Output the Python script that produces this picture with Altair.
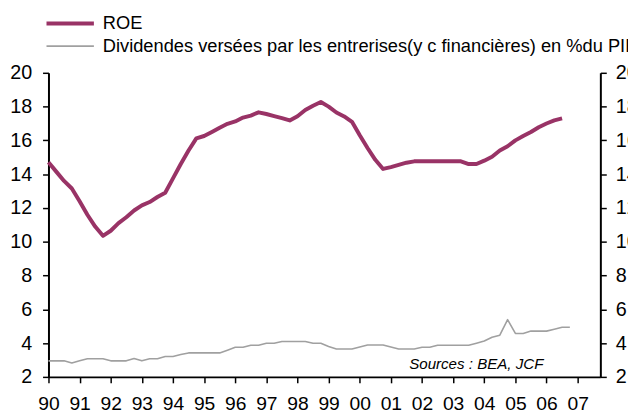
import altair as alt
import pandas as pd

ROE_NAME = "ROE"
DIV_NAME = "Dividendes versées par les entrerises(y c financières) en %du PIB"

roe_t = [1990.00, 1990.25, 1990.50, 1990.75, 1991.00, 1991.25, 1991.50, 1991.75,
         1992.00, 1992.25, 1992.50, 1992.75, 1993.00, 1993.25, 1993.50, 1993.75,
         1994.00, 1994.25, 1994.50, 1994.75, 1995.00, 1995.25, 1995.50, 1995.75,
         1996.00, 1996.25, 1996.50, 1996.75, 1997.00, 1997.25, 1997.50, 1997.75,
         1998.00, 1998.25, 1998.50, 1998.75, 1999.00, 1999.25, 1999.50, 1999.75,
         2000.00, 2000.25, 2000.50, 2000.75, 2001.00, 2001.25, 2001.50, 2001.75,
         2002.00, 2002.25, 2002.50, 2002.75, 2003.00, 2003.25, 2003.50, 2003.75,
         2004.00, 2004.25, 2004.50, 2004.75, 2005.00, 2005.25, 2005.50, 2005.75,
         2006.00, 2006.25, 2006.50]
roe_v = [14.70, 14.15, 13.60, 13.15, 12.40, 11.60, 10.90, 10.35,
         10.65, 11.10, 11.45, 11.85, 12.15, 12.35, 12.65, 12.90,
         13.75, 14.60, 15.40, 16.12, 16.26, 16.50, 16.75, 16.98,
         17.12, 17.35, 17.47, 17.66, 17.56, 17.44, 17.32, 17.18,
         17.43, 17.80, 18.05, 18.27, 18.00, 17.65, 17.42, 17.10,
         16.30, 15.55, 14.85, 14.31, 14.42, 14.55, 14.68, 14.76,
         14.76, 14.76, 14.76, 14.76, 14.76, 14.76, 14.60, 14.60,
         14.80, 15.03, 15.40, 15.65, 16.00, 16.26, 16.50, 16.78,
         17.00, 17.18, 17.30]

div_t = [1990.00, 1990.25, 1990.50, 1990.75, 1991.00, 1991.25, 1991.50, 1991.75,
         1992.00, 1992.25, 1992.50, 1992.75, 1993.00, 1993.25, 1993.50, 1993.75,
         1994.00, 1994.25, 1994.50, 1994.75, 1995.00, 1995.25, 1995.50, 1995.75,
         1996.00, 1996.25, 1996.50, 1996.75, 1997.00, 1997.25, 1997.50, 1997.75,
         1998.00, 1998.25, 1998.50, 1998.75, 1999.00, 1999.25, 1999.50, 1999.75,
         2000.00, 2000.25, 2000.50, 2000.75, 2001.00, 2001.25, 2001.50, 2001.75,
         2002.00, 2002.25, 2002.50, 2002.75, 2003.00, 2003.25, 2003.50, 2003.75,
         2004.00, 2004.25, 2004.50, 2004.75, 2005.00, 2005.25, 2005.50, 2005.75,
         2006.00, 2006.25, 2006.50, 2006.75]
div_v = [2.95, 2.95, 2.95, 2.82, 2.95, 3.07, 3.07, 3.07,
         2.95, 2.95, 2.95, 3.09, 2.95, 3.07, 3.07, 3.21,
         3.21, 3.32, 3.42, 3.42, 3.42, 3.42, 3.42, 3.58,
         3.75, 3.75, 3.87, 3.87, 3.99, 3.99, 4.10, 4.10,
         4.10, 4.10, 3.99, 3.99, 3.80, 3.65, 3.65, 3.65,
         3.77, 3.89, 3.89, 3.89, 3.77, 3.65, 3.65, 3.65,
         3.75, 3.75, 3.87, 3.87, 3.87, 3.87, 3.87, 3.99,
         4.12, 4.35, 4.47, 5.39, 4.57, 4.57, 4.71, 4.71,
         4.71, 4.82, 4.94, 4.94]

year_ticks = list(range(1990, 2008))
y_ticks = list(range(2, 21, 2))
series_names = [ROE_NAME, DIV_NAME]
series_colors = ["#993366", "#A0A0A0"]
series_widths = [4, 1.6]

note_t = [2005.9]
note_v = [2.78]
note_txt = ["Sources : BEA, JCF"]

df = pd.concat([
    pd.DataFrame({"t": roe_t, "v": roe_v, "serie": ROE_NAME}),
    pd.DataFrame({"t": div_t, "v": div_v, "serie": DIV_NAME}),
], ignore_index=True)
note_df = pd.DataFrame({"t": note_t, "v": note_v, "txt": note_txt})

FONT = "Liberation Sans"
x_scale = alt.Scale(domain=[1990, 2007.73], nice=False, zero=False)
y_scale = alt.Scale(domain=[2, 20], nice=False, zero=False)

x_axis = alt.Axis(
    values=year_ticks, labelExpr="slice(toString(datum.value), 2)",
    title=None, grid=False, domainColor="black", domainWidth=2,
    tickColor="black", tickWidth=1.5, tickSize=6, labelPadding=12,
    labelFontSize=19.5, labelFont=FONT, labelColor="black",
    labelFlush=False, labelOverlap=False)


def x_enc():
    return alt.X("t:Q", scale=x_scale, axis=x_axis)


legend_cfg = dict(title=None, orient="none", legendX=-4, legendY=-64,
                  symbolType="M-1,0H3", symbolSize=576,
                  labelFontSize=18.5, labelFont=FONT, labelColor="black",
                  labelLimit=2000, labelOffset=31, rowPadding=0, padding=0)

lines = alt.Chart(df).mark_line(strokeJoin="round", strokeCap="butt").encode(
    x=x_enc(),
    y=alt.Y("v:Q", scale=y_scale, axis=alt.Axis(
        values=y_ticks, orient="left", title=None, grid=False,
        domainColor="black", domainWidth=2, tickColor="black", tickWidth=1.5,
        tickSize=6, labelPadding=11, labelFontSize=20, labelFont=FONT,
        labelColor="black", labelFlush=False, labelOverlap=False)),
    color=alt.Color("serie:N", scale=alt.Scale(domain=series_names, range=series_colors),
                    sort=series_names, legend=alt.Legend(**legend_cfg)),
    strokeWidth=alt.StrokeWidth("serie:N", scale=alt.Scale(domain=series_names, range=series_widths),
                                sort=series_names, legend=alt.Legend(**legend_cfg)),
    order="t:Q",
)

note = alt.Chart(note_df).mark_text(align="right", baseline="middle", fontSize=15.3,
                                    fontStyle="italic", font=FONT, color="black").encode(
    x=x_enc(),
    y=alt.Y("v:Q", scale=y_scale, axis=None),
    text="txt:N",
)

right_axis = alt.Chart(df).mark_line(opacity=0).encode(
    x=x_enc(),
    y=alt.Y("v:Q", scale=y_scale, axis=alt.Axis(
        values=y_ticks, orient="right", title=None, grid=False,
        domainColor="black", domainWidth=2, tickColor="black", tickWidth=1.5,
        tickSize=6, labelPadding=9, labelFontSize=20, labelFont=FONT,
        labelColor="black", labelFlush=False, labelOverlap=False)),
    detail="serie:N",
)

chart = alt.layer(lines, note, right_axis).resolve_scale(y="independent").properties(
    width=559, height=308,
    autosize=alt.AutoSizeParams(type="none"),
    padding={"left": 41, "top": 63, "right": 28, "bottom": 40},
).configure_view(stroke=None)

chart.save("out.html", embed_options={"renderer": "svg", "actions": False})
